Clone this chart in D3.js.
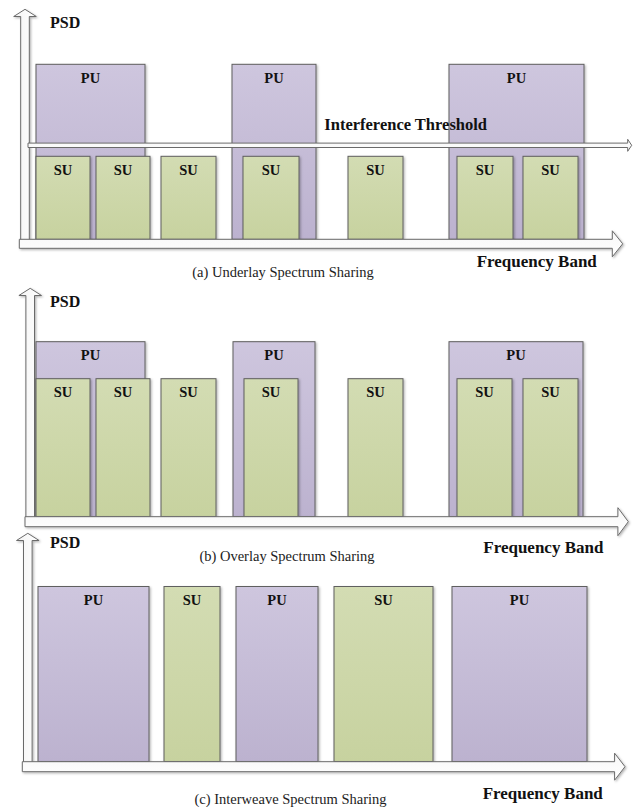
<!DOCTYPE html>
<html><head><meta charset="utf-8">
<script src="https://cdn.jsdelivr.net/npm/d3@7"></script>
<style>body{margin:0;background:#fff}</style>
</head><body>
<svg id="chart" width="640" height="807"></svg>
<script>
// ---- data ----
const captions = ["(a) Underlay Spectrum Sharing", "(b) Overlay Spectrum Sharing", "(c) Interweave Spectrum Sharing"];
const yLabel = "PSD";
const xLabel = "Frequency Band";
const thresholdLabel = "Interference Threshold";
const puBandsA = [[16,125],[212,296],[429,564]];
const suBandsA = [[16,70],[76,130],[141,196],[223,279],[328,383],[437,493],[503,558]];
const puBandsB = [[16,125],[213,295],[429,563]];
const suBandsB = [[16,70],[76,130],[141,196],[224,278],[328,383],[437,492],[503,558]];
const puBandsC = [[18,129],[216,298],[432,567]];
const suBandsC = [[144,200],[314,413]];
const puLevels = [175, 175, 175];
const suLevels = [83, 138, 175];
const thresholdLevel = 94;

// ---- layout ----
const FONT = "'Liberation Serif','Times New Roman',serif";
const panels = [
  {pu: puBandsA, su: suBandsA, base: 239.3, vx: 25, vtip: 9.3, hcy: 243.8, hx0: 19.3, htip: 622.7, hs: 4.5, hhead: 13, hlen: 10.4,
   psd: [50, 28], fb: [476.7, 267], cap: [283, 277], threshold: true},
  {pu: puBandsB, su: suBandsB, base: 516.7, vx: 30.2, vtip: 288.3, hcy: 521.7, hx0: 25, htip: 628.3, hs: 5, hhead: 14, hlen: 10.4,
   psd: [50, 306.7], fb: [483.3, 553.3], cap: [287, 560.5]},
  {pu: puBandsC, su: suBandsC, base: 761.5, vx: 27.8, vtip: 533.3, hcy: 766.7, hx0: 22.3, htip: 625, hs: 5, hhead: 13.5, hlen: 10.4,
   psd: [50, 548.3], fb: [482.7, 799.3], cap: [290.5, 804]}
];

const svg = d3.select("#chart");
const defs = svg.append("defs");
function vgrad(id, c0, c1) {
  const g = defs.append("linearGradient").attr("id", id).attr("x1", 0).attr("y1", 0).attr("x2", 0).attr("y2", 1);
  g.append("stop").attr("offset", "0%").attr("stop-color", c0);
  g.append("stop").attr("offset", "100%").attr("stop-color", c1);
}
function hgrad(id, c0, c1) {
  const g = defs.append("linearGradient").attr("id", id).attr("x1", 0).attr("y1", 0).attr("x2", 1).attr("y2", 0);
  g.append("stop").attr("offset", "0%").attr("stop-color", c0);
  g.append("stop").attr("offset", "100%").attr("stop-color", c1);
}
vgrad("puGrad", "#cec6de", "#bcb2cf");
vgrad("suGrad", "#d3dcb3", "#c7d29f");
vgrad("hArrow", "#f7f7f7", "#ffffff");
hgrad("vArrow", "#f4f4f4", "#ffffff");
const f = defs.append("filter").attr("id", "shadow").attr("x", "-10%").attr("y", "-10%").attr("width", "130%").attr("height", "130%");
f.append("feDropShadow").attr("dx", 1.2).attr("dy", 1.2).attr("stdDeviation", 0.8).attr("flood-color", "#000").attr("flood-opacity", 0.3);

function hArrowPath(x0, cy, tip, hs, hh, hl) {
  const xh = tip - hl;
  return `M${x0},${cy-hs}L${xh},${cy-hs}L${xh},${cy-hh}L${tip},${cy}L${xh},${cy+hh}L${xh},${cy+hs}L${x0},${cy+hs}Z`;
}
function vArrowPath(cx, yb, tip, hs, hh, hl) {
  const yh = tip + hl;
  return `M${cx-hs},${yb}L${cx-hs},${yh}L${cx-hh},${yh}L${cx},${tip}L${cx+hh},${yh}L${cx+hs},${yh}L${cx+hs},${yb}Z`;
}

panels.forEach((p, i) => {
  const g = svg.append("g");
  const x = d3.scaleLinear().domain([0, 600]).range([20, 620]);
  const y = d3.scaleLinear().domain([0, 230]).range([p.base, p.base - 230]);

  // vertical axis arrow
  g.append("path").attr("d", vArrowPath(p.vx, p.hcy, p.vtip, 4.3, 11.3, 7.2))
    .attr("fill", "url(#vArrow)").attr("stroke", "#6a6a6a").attr("stroke-width", 1).attr("filter", "url(#shadow)");

  // PU bars
  const puG = g.append("g");
  puG.selectAll("rect").data(p.pu).join("rect")
    .attr("x", d => x(d[0])).attr("width", d => x(d[1]) - x(d[0]))
    .attr("y", y(puLevels[i])).attr("height", y(0) - y(puLevels[i]))
    .attr("fill", "url(#puGrad)").attr("stroke", "#5e5e5e").attr("stroke-width", 1).attr("filter", "url(#shadow)");
  puG.selectAll("text").data(p.pu).join("text")
    .attr("x", d => (x(d[0]) + x(d[1])) / 2).attr("y", y(puLevels[i]) + 18.5)
    .attr("text-anchor", "middle").attr("font-family", FONT).attr("font-weight", "bold").attr("font-size", 14.5)
    .attr("fill", "#111").text("PU");

  // SU bars
  const suG = g.append("g");
  suG.selectAll("rect").data(p.su).join("rect")
    .attr("x", d => x(d[0])).attr("width", d => x(d[1]) - x(d[0]))
    .attr("y", y(suLevels[i])).attr("height", y(0) - y(suLevels[i]))
    .attr("fill", "url(#suGrad)").attr("stroke", "#5e5e5e").attr("stroke-width", 1).attr("filter", "url(#shadow)");
  suG.selectAll("text").data(p.su).join("text")
    .attr("x", d => (x(d[0]) + x(d[1])) / 2).attr("y", y(suLevels[i]) + 18.5)
    .attr("text-anchor", "middle").attr("font-family", FONT).attr("font-weight", "bold").attr("font-size", 14.5)
    .attr("fill", "#111").text("SU");

  // horizontal axis arrow
  g.append("path").attr("d", hArrowPath(p.hx0, p.hcy, p.htip, p.hs, p.hhead, p.hlen))
    .attr("fill", "url(#hArrow)").attr("stroke", "#6a6a6a").attr("stroke-width", 1).attr("filter", "url(#shadow)");

  // threshold
  if (p.threshold) {
    const ty = y(thresholdLevel);
    g.append("path").attr("d", hArrowPath(28, ty, 631.7, 2.2, 6, 4))
      .attr("fill", "#fafafa").attr("stroke", "#6a6a6a").attr("stroke-width", 1);
    g.append("text").attr("x", 324.3).attr("y", ty - 15.5)
      .attr("font-family", FONT).attr("font-weight", "bold").attr("font-size", 16.5).attr("fill", "#111")
      .text(thresholdLabel);
  }

  // labels
  g.append("text").attr("x", p.psd[0]).attr("y", p.psd[1])
    .attr("font-family", FONT).attr("font-weight", "bold").attr("font-size", 16).attr("fill", "#111").text(yLabel);
  g.append("text").attr("x", p.fb[0]).attr("y", p.fb[1])
    .attr("font-family", FONT).attr("font-weight", "bold").attr("font-size", 17).attr("fill", "#111").text(xLabel);
  g.append("text").attr("x", p.cap[0]).attr("y", p.cap[1]).attr("text-anchor", "middle")
    .attr("font-family", FONT).attr("font-size", 14.5).attr("fill", "#222").text(captions[i]);
});
</script>
</body></html>
